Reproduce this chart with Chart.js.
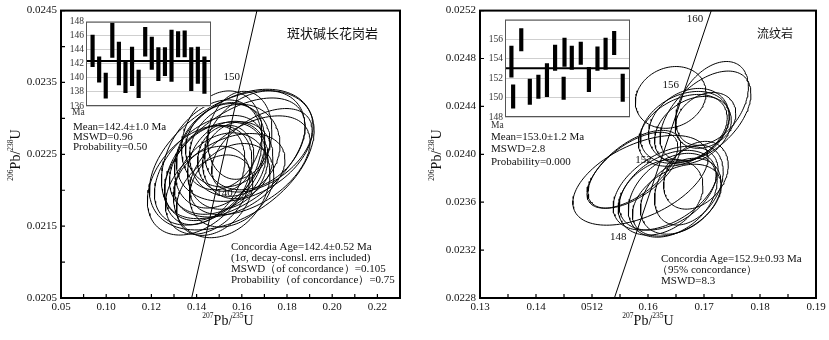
<!DOCTYPE html>
<html>
<head>
<meta charset="utf-8">
<script src="https://cdn.jsdelivr.net/npm/chart.js@4.4.1/dist/chart.umd.min.js"></script>
<style>
  body { margin: 0; background: #fff; }
  #wrap { position: relative; width: 829px; height: 340px; }
  .box { position: absolute; }
</style>
</head>
<body>
<div id="wrap">
  <div class="box" style="left:0;top:0"><canvas id="leftChart" width="410" height="340"></canvas></div>
  <div class="box" style="left:410px;top:0"><canvas id="rightChart" width="419" height="340"></canvas></div>
  <div class="box" style="left:66px;top:14px"><canvas id="leftInset" width="145" height="106"></canvas></div>
  <div class="box" style="left:485px;top:12px"><canvas id="rightInset" width="145" height="120"></canvas></div>
</div>
<script>
// ---- left panel: 斑状碱长花岗岩 ----
const leftXTickValues = [0.08, 0.10, 0.12, 0.14, 0.16, 0.18, 0.20, 0.22];
const leftXTickLabels = ['0.05', '0.10', '0.12', '0.14', '0.16', '0.18', '0.20', '0.22'];
const leftYTickValues = [0.0205, 0.0215, 0.0225, 0.0235, 0.0245];
const leftYTickLabels = ['0.0205', '0.0215', '0.0225', '0.0235', '0.0245'];

// error ellipses: centre, half extent in x and y, correlation
const leftEllX = [0.15556, 0.16133, 0.14133, 0.15111, 0.15378, 0.15689, 0.14578, 0.15378, 0.15022, 0.16356, 0.14489, 0.15822,
                  0.14933, 0.15467, 0.16578, 0.14356, 0.15289, 0.15556, 0.15911, 0.16889, 0.14800, 0.15111, 0.15689, 0.14667];
const leftEllY = [0.022417, 0.022625, 0.022139, 0.022069, 0.022625, 0.022556, 0.022278, 0.022347, 0.022486, 0.022347,
                  0.022000, 0.022417, 0.022306, 0.022208, 0.022694, 0.022208, 0.022444, 0.022069, 0.022764, 0.022556,
                  0.021931, 0.022694, 0.022444, 0.022417];
const leftEllSx = [0.03644, 0.03022, 0.02311, 0.02133, 0.01867, 0.02000, 0.02444, 0.01778, 0.02000, 0.02667, 0.01867, 0.01556,
                   0.02133, 0.02444, 0.02222, 0.01778, 0.01244, 0.01867, 0.01422, 0.02222, 0.01689, 0.01778, 0.03111, 0.02222];
const leftEllSy = [0.00097, 0.00078, 0.000763, 0.00073, 0.000581, 0.000641, 0.000763, 0.000612, 0.000734, 0.000688, 0.000612, 0.000535,
                   0.000641, 0.000581, 0.000688, 0.000688, 0.000459, 0.000581, 0.000612, 0.000581, 0.00056, 0.000688, 0.00084, 0.00084];
const leftEllRho = [0.43, 0.33, 0.38, 0.23, 0.1, 0.13, 0.43, 0.18, 0.28, 0.48, 0.33, 0.1,
                    0.28, 0.38, 0.28, 0.33, 0.1, 0.28, 0.13, 0.48, 0.33, 0.18, 0.53, 0.33];

const leftConcX = [0.1378, 0.1667];
const leftConcY = [0.0205, 0.0245];
const leftAgeText = ['150', '140'];
const leftAgeX = [0.1556, 0.1524];
const leftAgeY = [0.023569, 0.021958];

// inset: ages with error bars
const leftBarX = [0, 1, 2, 3, 4, 5, 6, 7, 8, 9, 10, 11, 12, 13, 14, 15, 16, 17];
const leftBarHi = [146.1, 143.0, 140.7, 147.8, 145.1, 142.5, 144.4, 141.1, 147.2, 145.8, 144.3, 144.3, 146.8, 146.6, 146.7, 144.3, 144.4, 143.0];
const leftBarLo = [141.6, 139.4, 137.1, 142.9, 139.0, 137.9, 138.9, 137.2, 143.1, 141.2, 139.6, 140.3, 139.5, 143.0, 143.0, 138.2, 139.2, 137.8];
const leftMean = 142.4;

// ---- right panel: 流纹岩 ----
const rightXTickValues = [0.13, 0.14, 0.15, 0.16, 0.17, 0.18, 0.19];
const rightXTickLabels = ['0.13', '0.14', '0512', '0.16', '0.17', '0.18', '0.19'];
const rightYTickValues = [0.0228, 0.0232, 0.0236, 0.0240, 0.0244, 0.0248, 0.0252];
const rightYTickLabels = ['0.0228', '0.0232', '0.0236', '0.0240', '0.0244', '0.0248', '0.0252'];

const rightEllX = [0.16405, 0.17027, 0.17144, 0.16658, 0.16730, 0.16802, 0.16622, 0.17027, 0.15757, 0.15721,
                   0.15865, 0.16351, 0.16441, 0.16315, 0.16586, 0.16225, 0.16730, 0.16514, 0.16856];
const rightEllY = [0.024475, 0.024320, 0.024425, 0.024225, 0.024242, 0.024200, 0.024200, 0.024283, 0.023875, 0.023867,
                   0.023783, 0.023700, 0.023658, 0.023717, 0.023650, 0.023642, 0.023742, 0.023617, 0.023825];
const rightEllSx = [0.00631, 0.00811, 0.00649, 0.00793, 0.00721, 0.00685, 0.00793, 0.00541, 0.00829, 0.00811,
                    0.01207, 0.00865, 0.00793, 0.00937, 0.00721, 0.00757, 0.00613, 0.00793, 0.00577];
const rightEllSy = [0.000258, 0.000375, 0.000350, 0.000300, 0.000308, 0.000283, 0.000300, 0.000233, 0.000325, 0.000317,
                    0.000375, 0.000333, 0.000350, 0.000350, 0.000317, 0.000317, 0.000333, 0.000300, 0.000283];
const rightEllRho = [0.15, 0.5, 0.4, 0.3, 0.25, 0.3, 0.35, 0.25, 0.6, 0.62,
                     0.5, 0.4, 0.35, 0.45, 0.35, 0.3, 0.35, 0.4, 0.3];

const rightConcX = [0.1540, 0.1713];
const rightConcY = [0.0228, 0.0252];
const rightAgeText = ['160', '156', '152', '148'];
const rightAgeX = [0.16838, 0.16405, 0.15919, 0.15468];
const rightAgeY = [0.025133, 0.024575, 0.02395, 0.023308];

const rightBarX = [0.75, 0.95, 1.9, 2.9, 3.9, 4.9, 5.85, 6.85, 6.95, 7.8, 8.85, 9.8, 10.8, 11.75, 12.75, 13.75];
const rightBarHi = [155.3, 151.3, 157.1, 151.9, 152.3, 153.5, 155.4, 152.1, 156.1, 155.3, 155.7, 153.1, 155.2, 156.1, 156.8, 152.4];
const rightBarLo = [152.1, 148.9, 154.8, 149.3, 149.9, 150.1, 152.8, 149.8, 153.2, 152.9, 153.4, 150.6, 152.8, 152.9, 154.4, 149.6];
const rightMean = 153.0;

const SERIF = '"Liberation Serif", "Times New Roman", serif';
const CJK = '"Noto Sans CJK SC", sans-serif';
const INK = '#111';

function ellipsePoints(cx, cy, sx, sy, rho) {
  const pts = [];
  const k = Math.sqrt(1 - rho * rho);
  for (let i = 0; i <= 120; i++) {
    const t = i / 120 * 2 * Math.PI;
    pts.push({ x: cx + sx * Math.cos(t), y: cy + sy * (rho * Math.cos(t) + k * Math.sin(t)) });
  }
  return pts;
}

function withMinor(values) {
  const out = [];
  values.forEach((v, i) => {
    out.push({ value: v });
    if (i < values.length - 1) out.push({ value: (v + values[i + 1]) / 2 });
  });
  return out;
}

function labelFor(values, labels) {
  return function (value) {
    const i = values.findIndex(v => Math.abs(v - value) < 1e-9);
    return i >= 0 ? labels[i] : '';
  };
}

function drawIsotope(ctx, parts, x, y, rotate) {
  ctx.save();
  ctx.translate(x, y);
  if (rotate) ctx.rotate(-Math.PI / 2);
  ctx.fillStyle = INK;
  ctx.textBaseline = 'alphabetic';
  const big = '14px ' + SERIF, small = '7.5px ' + SERIF;
  let w = 0;
  parts.forEach(p => { ctx.font = p[1] ? small : big; w += ctx.measureText(p[0]).width; });
  let cx = -w / 2;
  parts.forEach(p => {
    ctx.font = p[1] ? small : big;
    ctx.fillText(p[0], cx, p[1] ? -7 : 0);
    cx += ctx.measureText(p[0]).width;
  });
  ctx.restore();
}

const frameTicks = {
  id: 'frameTicks',
  afterDraw(chart) {
    const { ctx, chartArea: a, scales } = chart;
    ctx.save();
    ctx.strokeStyle = '#000';
    ctx.lineWidth = 1.2;
    ctx.beginPath();
    scales.x.ticks.forEach(t => {
      const px = scales.x.getPixelForValue(t.value);
      ctx.moveTo(px, a.bottom); ctx.lineTo(px, a.bottom - 4);
    });
    scales.y.ticks.forEach(t => {
      const py = scales.y.getPixelForValue(t.value);
      ctx.moveTo(a.left, py); ctx.lineTo(a.left + 4, py);
    });
    ctx.stroke();
    ctx.lineWidth = 2;
    ctx.strokeRect(a.left, a.top, a.right - a.left, a.bottom - a.top);
    ctx.restore();
  }
};

function notesPlugin(cfg) {
  return {
    id: 'notes',
    beforeDatasetsDraw(chart) {
      const { ctx, scales } = chart;
      ctx.save();
      ctx.fillStyle = INK;
      ctx.font = '11px ' + SERIF;
      ctx.textAlign = 'center';
      ctx.textBaseline = 'middle';
      cfg.ageText.forEach((t, i) => {
        ctx.fillText(t, scales.x.getPixelForValue(cfg.ageX[i]), scales.y.getPixelForValue(cfg.ageY[i]));
      });
      ctx.restore();
    },
    afterDraw(chart) {
      const { ctx } = chart;
      ctx.save();
      ctx.fillStyle = INK;
      ctx.textAlign = 'left';
      ctx.textBaseline = 'middle';
      ctx.font = '11px ' + SERIF;
      cfg.texts.forEach(t => ctx.fillText(t[0], t[1], t[2]));
      ctx.font = cfg.rockSize + 'px ' + CJK;
      ctx.fillText(cfg.rock[0], cfg.rock[1], cfg.rock[2]);
      drawIsotope(ctx, [['207', true], ['Pb/', false], ['235', true], ['U', false]], cfg.xTitle[0], cfg.xTitle[1], false);
      drawIsotope(ctx, [['206', true], ['Pb/', false], ['238', true], ['U', false]], cfg.yTitle[0], cfg.yTitle[1], true);
      ctx.restore();
    }
  };
}

function mainChart(id, p) {
  const datasets = p.ellX.map((cx, i) => ({
    data: ellipsePoints(cx, p.ellY[i], p.ellSx[i], p.ellSy[i], p.ellRho[i]),
    borderColor: '#000', borderWidth: 1, showLine: true, pointRadius: 0, fill: false
  }));
  datasets.unshift({
    data: p.concX.map((x, i) => ({ x: x, y: p.concY[i] })),
    borderColor: '#000', borderWidth: 1, showLine: true, pointRadius: 0, fill: false
  });
  return new Chart(document.getElementById(id), {
    type: 'scatter',
    data: { datasets },
    options: {
      responsive: false,
      animation: false,
      events: [],
      layout: { padding: { top: 10, right: p.padRight, left: 0, bottom: 0 } },
      plugins: { legend: { display: false }, tooltip: { enabled: false } },
      scales: {
        x: {
          type: 'linear', min: p.xMin, max: p.xMax,
          grid: { display: false, drawTicks: false }, border: { display: false },
          afterBuildTicks: s => { s.ticks = withMinor(p.xTicks); },
          afterFit: s => { s.height = 42; },
          ticks: {
            autoSkip: false, maxRotation: 0, padding: 3, color: INK,
            font: { family: SERIF, size: 11 },
            callback: labelFor(p.xTicks, p.xLabels)
          }
        },
        y: {
          type: 'linear', min: p.yMin, max: p.yMax,
          grid: { display: false, drawTicks: false }, border: { display: false },
          afterBuildTicks: s => { s.ticks = p.yMinor ? withMinor(p.yTicks) : p.yTicks.map(v => ({ value: v })); },
          afterFit: s => { s.width = p.yWidth; },
          ticks: {
            autoSkip: false, padding: 4, color: INK,
            font: { family: SERIF, size: 11 },
            callback: labelFor(p.yTicks, p.yLabels)
          }
        }
      }
    },
    plugins: [frameTicks, notesPlugin(p.notes)]
  });
}

function insetChart(id, p) {
  return new Chart(document.getElementById(id), {
    type: 'bar',
    data: {
      datasets: [
        {
          type: 'line', order: 0,
          data: [{ x: p.xMin, y: p.mean }, { x: p.xMax, y: p.mean }],
          borderColor: '#000', borderWidth: 2, pointRadius: 0
        },
        {
          type: 'bar', order: 1, grouped: false,
          data: p.barX.map((x, i) => ({ x: x, y: [p.lo[i], p.hi[i]] })),
          backgroundColor: '#000', borderWidth: 0, barThickness: 3.5
        }
      ]
    },
    options: {
      responsive: false,
      animation: false,
      events: [],
      layout: { padding: { top: p.padTop, right: 0, left: 0, bottom: p.padBottom } },
      plugins: { legend: { display: false }, tooltip: { enabled: false } },
      scales: {
        x: { type: 'linear', min: p.xMin, max: p.xMax, offset: false, display: false },
        y: {
          min: p.yMin, max: p.yMax,
          afterFit: s => { s.width = 20; },
          grid: { color: '#cfcfcf', lineWidth: 1, drawTicks: false },
          border: { display: false },
          ticks: {
            stepSize: 2, padding: 2, color: '#333',
            font: { family: SERIF, size: 9.5 },
            callback: v => (p.hideTop && v === p.yMax) ? '' : v
          }
        }
      }
    },
    plugins: [{
      id: 'insetFrame',
      beforeDraw(chart) {
        const { ctx, chartArea: a } = chart;
        ctx.save();
        ctx.fillStyle = '#fff';
        ctx.fillRect(a.left, a.top, a.right - a.left, a.bottom - a.top);
        ctx.restore();
      },
      afterDraw(chart) {
        const { ctx, chartArea: a } = chart;
        ctx.save();
        ctx.strokeStyle = '#555';
        ctx.lineWidth = 1;
        ctx.strokeRect(a.left + 0.5, a.top + 0.5, a.right - a.left - 1, a.bottom - a.top - 1);
        ctx.fillStyle = '#333';
        ctx.font = '9.5px ' + SERIF;
        ctx.textBaseline = 'middle';
        ctx.fillText('Ma', a.left - 14, a.bottom + p.maDy);
        ctx.restore();
      }
    }]
  });
}

mainChart('leftChart', {
  ellX: leftEllX, ellY: leftEllY, ellSx: leftEllSx, ellSy: leftEllSy, ellRho: leftEllRho,
  concX: leftConcX, concY: leftConcY,
  xMin: 0.08, xMax: 0.23, yMin: 0.0205, yMax: 0.0245,
  xTicks: leftXTickValues, xLabels: leftXTickLabels,
  yTicks: leftYTickValues, yLabels: leftYTickLabels, yMinor: true,
  yWidth: 61, padRight: 10,
  notes: {
    ageText: leftAgeText, ageX: leftAgeX, ageY: leftAgeY,
    texts: [
      ['Mean=142.4±1.0 Ma', 73, 127],
      ['MSWD=0.96', 73, 137],
      ['Probability=0.50', 73, 147],
      ['Concordia Age=142.4±0.52 Ma', 231, 247],
      ['(1σ, decay-consl. errs included)', 231, 258],
      ['MSWD（of concordance）=0.105', 231, 269],
      ['Probability（of concordance）=0.75', 231, 280]
    ],
    rock: ['斑状碱长花岗岩', 287, 33], rockSize: 13,
    xTitle: [228, 325], yTitle: [20, 155]
  }
});

mainChart('rightChart', {
  ellX: rightEllX, ellY: rightEllY, ellSx: rightEllSx, ellSy: rightEllSy, ellRho: rightEllRho,
  concX: rightConcX, concY: rightConcY,
  xMin: 0.13, xMax: 0.19, yMin: 0.0228, yMax: 0.0252,
  xTicks: rightXTickValues, xLabels: rightXTickLabels,
  yTicks: rightYTickValues, yLabels: rightYTickLabels, yMinor: false,
  yWidth: 70, padRight: 13,
  notes: {
    ageText: rightAgeText, ageX: rightAgeX, ageY: rightAgeY,
    texts: [
      ['Mean=153.0±1.2 Ma', 81, 137],
      ['MSWD=2.8', 81, 149],
      ['Probability=0.000', 81, 162],
      ['Concordia Age=152.9±0.93 Ma', 251, 259],
      ['（95% concordance）', 247, 270],
      ['MSWD=8.3', 251, 281]
    ],
    rock: ['流纹岩', 347, 33], rockSize: 12,
    xTitle: [238, 325], yTitle: [31, 155]
  }
});

insetChart('leftInset', {
  barX: leftBarX, hi: leftBarHi, lo: leftBarLo, mean: leftMean,
  xMin: -1, xMax: 18, yMin: 136, yMax: 148, hideTop: false,
  padTop: 1, padBottom: 14, maDy: 6
});

insetChart('rightInset', {
  barX: rightBarX, hi: rightBarHi, lo: rightBarLo, mean: rightMean,
  xMin: 0, xMax: 14.6, yMin: 148, yMax: 158, hideTop: true,
  padTop: 3, padBottom: 15, maDy: 8
});
</script>
</body>
</html>
